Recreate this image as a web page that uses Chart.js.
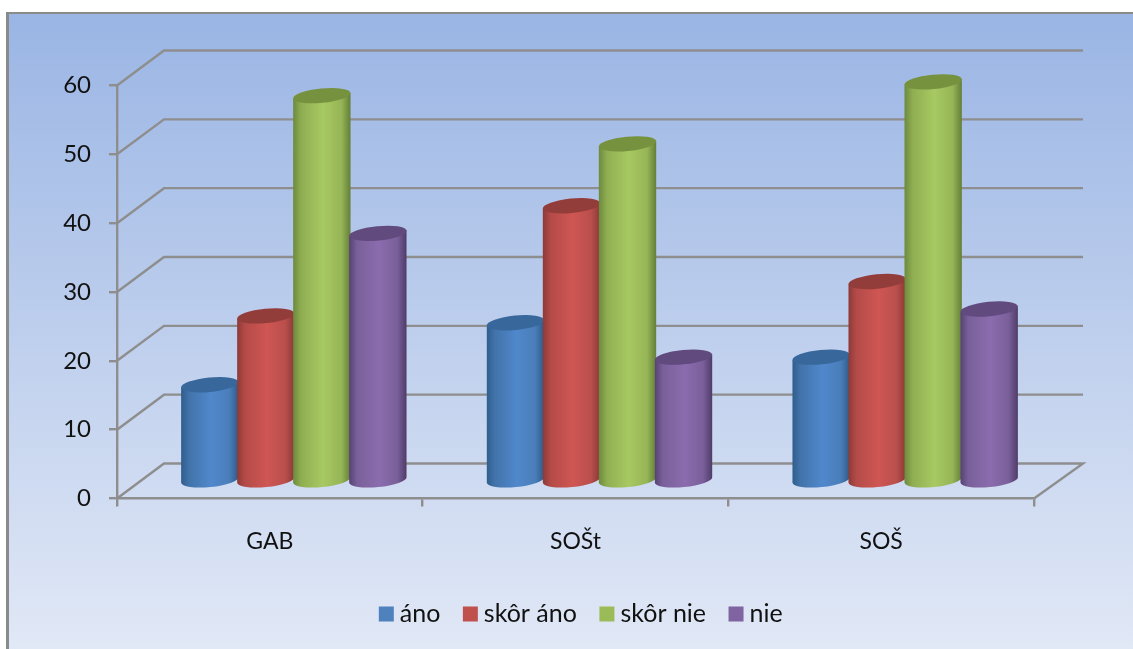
<!DOCTYPE html>
<html>
<head>
<meta charset="utf-8">
<style>html,body{margin:0;padding:0;background:#fff}#wrap{width:1133px;height:649px}canvas{display:block}</style>
<script src="https://cdn.jsdelivr.net/npm/chart.js@4/dist/chart.umd.min.js"></script>
</head>
<body>
<div id="wrap"><canvas id="c" width="1133" height="649"></canvas></div>
<script>
const categories = ['GAB', 'SOŠt', 'SOŠ'];
const ano = [14, 23, 18];
const skorAno = [24, 40, 29];
const skorNie = [56, 49, 58];
const nie = [36, 18, 25];

const GRID = '#8e8e8e';
const FONT = 'Lato, Carlito, sans-serif';
const LINE = 2.4;
// Floor depth of the 3D box and the depth at which the cylinders stand.
const BOX_DX = 47, BOX_DY = 35;
const BAR_DX = 24, BAR_DY = 17.4;
const TILT = -0.095, ELLIPSE_RY = 7.2;

// Body shading stops and cap colour for each series.
const shades = {
  '#4f81bd': { stops: ['#2f5d8d', '#4273aa', '#5088cc', '#4a7eba', '#2f5a88'], cap: '#38679b' },
  '#c0504d': { stops: ['#8d3a38', '#b44b48', '#cf5653', '#b94f4c', '#8a3836'], cap: '#933d3b' },
  '#9bbb59': { stops: ['#6c8a3d', '#8fae52', '#a7c962', '#96b556', '#647f37'], cap: '#77923f' },
  '#8064a2': { stops: ['#574274', '#79609a', '#8b6cae', '#7a5f9a', '#4f3c69'], cap: '#604a7e' }
};

const box3d = {
  id: 'box3d',
  beforeDraw(chart) {
    const { ctx, width, height } = chart;
    const g = ctx.createLinearGradient(0, 13, 0, height);
    g.addColorStop(0, '#9ab5e4');
    g.addColorStop(1, '#e1e8f6');
    ctx.save();
    ctx.fillStyle = '#fff';
    ctx.fillRect(0, 0, width, height);
    ctx.fillStyle = g;
    ctx.fillRect(8, 13, width - 8, height - 13);
    ctx.fillStyle = '#8a8a8a';
    ctx.fillRect(6, 12, width - 6, 2);
    ctx.fillRect(6, 12, 3, height - 12);
    ctx.restore();
  },
  afterLayout(chart) {
    // Legend row sits right of the canvas centre, below the category labels.
    const lg = chart.legend;
    lg.left += 67;
    lg.right += 67;
    const h = lg.height;
    lg.top = 572.5;
    lg.bottom = 572.5 + h;
  },
  beforeDatasetsDraw(chart) {
    const { ctx, chartArea: a, scales: { y } } = chart;
    ctx.save();
    ctx.strokeStyle = GRID;
    ctx.lineWidth = LINE;
    ctx.lineJoin = 'miter';
    y.ticks.forEach(t => {
      const py = y.getPixelForValue(t.value);
      ctx.beginPath();
      ctx.moveTo(a.left, py);
      ctx.lineTo(a.left + BOX_DX, py - BOX_DY);
      ctx.lineTo(a.right + BOX_DX + 2, py - BOX_DY);
      if (t.value === 0) ctx.lineTo(a.right, py);
      ctx.stroke();
    });
    ctx.restore();

    // Cylinders stand in place of the flat bars.
    chart.data.datasets.forEach((ds, i) => {
      const meta = chart.getDatasetMeta(i);
      const look = shades[ds.backgroundColor];
      meta.data.forEach(bar => {
        const p = bar.getProps(['x', 'y', 'base', 'width'], true);
        drawCylinder(ctx, p.x + BAR_DX, p.y - BAR_DY, p.base - BAR_DY, p.width / 2 + 0.8, look);
      });
    });
    return false;
  }
};

function drawCylinder(ctx, cx, topY, baseY, rx, look) {
  const dy = Math.sin(TILT) * rx, dx = Math.cos(TILT) * rx;
  const g = ctx.createLinearGradient(cx - dx, 0, cx + dx, 0);
  [0, 0.14, 0.52, 0.84, 1].forEach((s, k) => g.addColorStop(s, look.stops[k]));
  ctx.save();
  ctx.beginPath();
  ctx.ellipse(cx, baseY, rx, ELLIPSE_RY, TILT, 0, Math.PI);
  ctx.lineTo(cx - dx, topY - dy);
  ctx.lineTo(cx + dx, topY + dy);
  ctx.closePath();
  ctx.fillStyle = g;
  ctx.fill();
  ctx.beginPath();
  ctx.ellipse(cx, topY, rx, ELLIPSE_RY, TILT, 0, Math.PI * 2);
  ctx.fillStyle = look.cap;
  ctx.fill();
  ctx.restore();
}

new Chart(document.getElementById('c'), {
  type: 'bar',
  data: {
    labels: categories,
    datasets: [
      { label: 'áno', data: ano, backgroundColor: '#4f81bd' },
      { label: 'skôr áno', data: skorAno, backgroundColor: '#c0504d' },
      { label: 'skôr nie', data: skorNie, backgroundColor: '#9bbb59' },
      { label: 'nie', data: nie, backgroundColor: '#8064a2' }
    ]
  },
  options: {
    responsive: false,
    animation: false,
    devicePixelRatio: 1,
    layout: { padding: { top: 85.5, right: 99, left: 0, bottom: 0 } },
    datasets: { bar: { barPercentage: 1, categoryPercentage: 0.733, borderWidth: 0 } },
    plugins: {
      tooltip: { enabled: false },
      title: { display: false },
      legend: {
        position: 'bottom',
        labels: {
          usePointStyle: true,
          pointStyle: 'rect',
          boxWidth: 2,
          boxHeight: 15,
          padding: 29,
          color: '#111',
          font: { family: FONT, size: 25 }
        }
      }
    },
    scales: {
      x: {
        afterFit(s) { s.height = 150.5 - s.chart.legend.height; },
        grid: { drawOnChartArea: false, color: GRID, lineWidth: LINE, tickLength: 8 },
        border: { color: GRID, width: LINE },
        ticks: { color: '#111', padding: 21, font: { family: FONT, size: 23 } }
      },
      y: {
        min: 0,
        max: 60,
        afterFit(s) { s.width = 117; },
        grid: { drawOnChartArea: false, color: GRID, lineWidth: LINE, tickLength: 8 },
        border: { color: GRID, width: LINE },
        ticks: { stepSize: 10, color: '#111', padding: 18, font: { family: FONT, size: 24 } }
      }
    }
  },
  plugins: [box3d]
});
</script>
</body>
</html>
